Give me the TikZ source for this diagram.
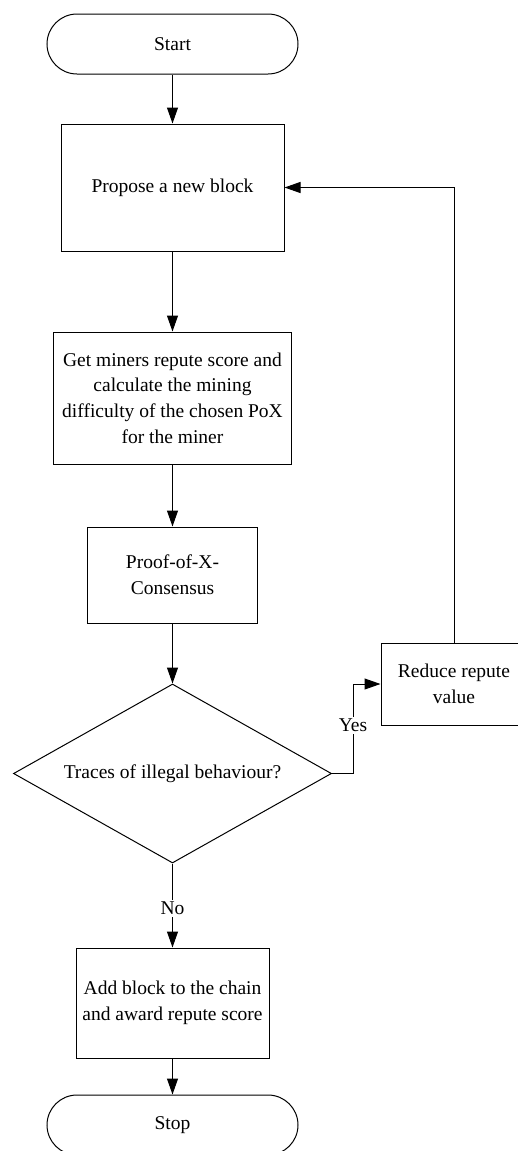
\documentclass[tikz,border=0pt]{standalone}
\usepackage{fontspec}
\setmainfont{Liberation Serif}
\usetikzlibrary{arrows.meta,shapes.geometric}
\begin{document}
\begin{tikzpicture}[x=1pt,y=-1pt,
  every node/.style={font=\fontsize{19.5}{25.7}\selectfont, align=center, inner sep=0pt},
  box/.style={draw, line width=1pt, rectangle},
  terminal/.style={draw, line width=1pt, rectangle, rounded corners=30pt,
    minimum width=251pt, minimum height=60pt},
  decision/.style={draw, line width=1pt, diamond, shape aspect=1.78,
    minimum width=318pt, minimum height=179pt},
  flow/.style={line width=1pt, -{Triangle[length=16pt,width=11pt]}},
  edgelabel/.style={fill=white, inner sep=2pt}
]
\useasboundingbox (0,0) rectangle (518,1151);

% process steps
\node[terminal] (start) at (172.5,44) {Start};
\node[box, minimum width=223pt, minimum height=127pt] (propose) at (172.5,187.5)
  {Propose a new block};
\node[box, minimum width=238pt, minimum height=132pt] (miners) at (172.5,398)
  {Get miners repute score and\\calculate the mining\\difficulty of the chosen PoX\\for the miner};
\node[box, minimum width=170pt, minimum height=96pt] (pox) at (172.5,575)
  {Proof-of-X-\\Consensus};
\node[decision] (check) at (172.5,773.5) {Traces of illegal behaviour?};
\node[box, minimum width=146pt, minimum height=82pt] (reduce) at (454,684)
  {Reduce repute\\value};
\node[box, minimum width=193pt, minimum height=110pt] (add) at (172.5,1003)
  {Add block to the chain\\and award repute score};
\node[terminal] (stop) at (172.5,1125) {Stop};

% connectors
\draw[flow] (start) -- (propose);
\draw[flow] (propose) -- (miners);
\draw[flow] (miners) -- (pox);
\draw[flow] (pox) -- (check);
\draw[flow] (check.east) -- ++(21,0) |- node[edgelabel, pos=0.27] {Yes} (reduce.west);
\draw[flow] (reduce.north) |- (propose.east);
\draw[flow] (check.south) -- node[edgelabel, pos=0.53] {No} (add.north);
\draw[flow] (add) -- (stop);
\end{tikzpicture}
\end{document}
